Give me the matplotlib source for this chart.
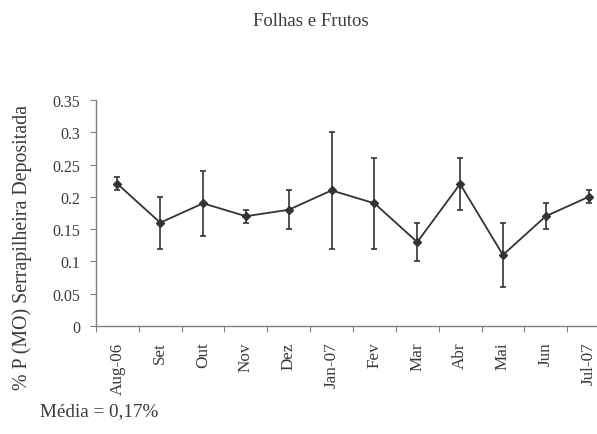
import matplotlib
matplotlib.use("Agg")
import matplotlib.pyplot as plt
import numpy as np

months = ["Aug-06", "Set", "Out", "Nov", "Dez", "Jan-07", "Fev", "Mar", "Abr", "Mai", "Jun", "Jul-07"]
values = [0.22, 0.16, 0.19, 0.17, 0.18, 0.21, 0.19, 0.13, 0.22, 0.11, 0.17, 0.20]
errors = [0.01, 0.04, 0.05, 0.01, 0.03, 0.09, 0.07, 0.03, 0.04, 0.05, 0.02, 0.01]
yticks = [0, 0.05, 0.1, 0.15, 0.2, 0.25, 0.3, 0.35]
ytick_labels = ["0", "0.05", "0.1", "0.15", "0.2", "0.25", "0.3", "0.35"]

plt.rcParams['font.family'] = ['Liberation Serif', 'DejaVu Serif']
txt = '#3a3a3a'
W, H = 597, 435
fig = plt.figure(figsize=(W / 100, H / 100), dpi=100)
left, right, bottom, top = 96, 610, 327, 101
ax = fig.add_axes([left / W, 1 - bottom / H, (right - left) / W, (bottom - top) / H])

x = np.arange(len(months))
ax.errorbar(x, values, yerr=errors, color='#333333', lw=1.3, marker='D', markersize=4.5,
            ecolor='#333333', elinewidth=1.2, capsize=2.5, capthick=1.2, zorder=3)

ax.set_xlim(-0.5, len(months) - 0.5)
ax.set_ylim(0, 0.35)
ax.set_yticks(yticks)
ax.set_yticklabels(ytick_labels)
for s in ['top', 'right']:
    ax.spines[s].set_visible(False)
for s in ['left', 'bottom']:
    ax.spines[s].set_color('#808080')
    ax.spines[s].set_linewidth(1.0)

ax.set_xticks(np.arange(-0.5, len(months) - 0.4, 1.0), minor=False)
ax.set_xticklabels([])
ax.set_xticks(x, minor=True)
ax.set_xticklabels(months, minor=True, rotation=90, fontsize=12.3, color=txt)
ax.tick_params(axis='x', which='major', direction='out', length=4, color='#808080')
ax.tick_params(axis='x', which='minor', length=0, pad=11)
ax.tick_params(axis='y', direction='out', length=4.3, color='#808080', labelsize=11.5,
               labelcolor=txt, pad=7)

fig.text(311 / W, 1 - 22 / H, "Folhas e Frutos", ha='center', va='center', fontsize=13.5, color=txt)
fig.text(22 / W, 1 - 248 / H, "% P (MO) Serrapilheira Depositada", rotation=90,
         ha='center', va='center', fontsize=14.3, color=txt)
fig.text(40 / W, 1 - 412 / H, "Média = 0,17%", ha='left', va='center', fontsize=13.8, color=txt)

fig.savefig("out.png", dpi=100)
